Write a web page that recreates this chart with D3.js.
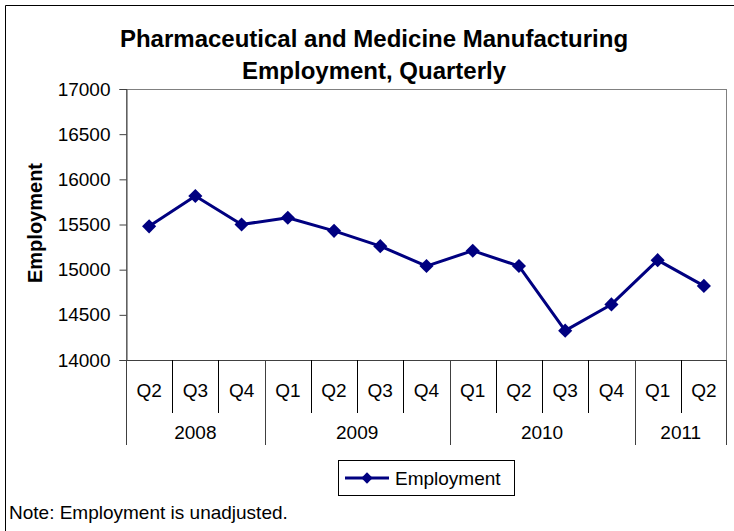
<!DOCTYPE html>
<html>
<head>
<meta charset="utf-8">
<script src="https://cdn.jsdelivr.net/npm/d3@7"></script>
<style>
  html, body { margin: 0; padding: 0; background: #fff; }
  svg { display: block; font-family: "Liberation Sans", Arial, Helvetica, sans-serif; }
</style>
</head>
<body>
<svg id="chart" width="734" height="531"></svg>
<script>
// Quarterly employment, pharmaceutical and medicine manufacturing
const quarters = ["Q2", "Q3", "Q4", "Q1", "Q2", "Q3", "Q4", "Q1", "Q2", "Q3", "Q4", "Q1", "Q2"];
const years = ["2008", "2009", "2010", "2011"];
const quartersPerYear = [3, 4, 4, 2];
const employment = [15480, 15815, 15500, 15575, 15430, 15260, 15040, 15210, 15040, 14325, 14615, 15105, 14820];
const yTicks = [14000, 14500, 15000, 15500, 16000, 16500, 17000];

const titleLines = ["Pharmaceutical and Medicine Manufacturing", "Employment, Quarterly"];
const seriesName = "Employment";
const noteText = "Note: Employment is unadjusted.";

const navy = "#000080";
const svg = d3.select("#chart");

const plot = { left: 126, right: 727, top: 89, bottom: 360 };

const x = d3.scaleBand()
  .domain(d3.range(quarters.length))
  .range([plot.left, plot.right])
  .padding(0);

const y = d3.scaleLinear()
  .domain([14000, 17000])
  .range([plot.bottom, plot.top]);

// chart frame
svg.append("path")
  .attr("d", "M5.5,531 V5.5 H734")
  .attr("fill", "none")
  .attr("stroke", "#000")
  .attr("stroke-width", 1);

// title
const title = svg.append("text")
  .attr("text-anchor", "middle")
  .attr("font-weight", "bold")
  .attr("font-size", 24)
  .attr("fill", "#000");
titleLines.forEach((t, i) => {
  title.append("tspan").attr("x", 374).attr("y", 47 + i * 32).text(t);
});

// plot area border
svg.append("rect")
  .attr("x", plot.left + 0.5)
  .attr("y", plot.top + 0.5)
  .attr("width", plot.right - plot.left - 1)
  .attr("height", plot.bottom - plot.top)
  .attr("fill", "none")
  .attr("stroke", "#808080")
  .attr("stroke-width", 1);

// y axis
const yAxis = d3.axisLeft(y)
  .tickValues(yTicks)
  .tickSize(7)
  .tickPadding(9)
  .tickFormat(d3.format("d"));
const yg = svg.append("g")
  .attr("transform", `translate(${plot.left + 0.5},0)`)
  .call(yAxis);
yg.select(".domain").attr("stroke", "#404040");
yg.selectAll(".tick line").attr("stroke", "#404040");
yg.selectAll(".tick text")
  .attr("font-size", 19)
  .attr("font-family", "Liberation Sans, Arial, sans-serif")
  .attr("fill", "#000");

// y axis title
svg.append("text")
  .attr("transform", `translate(42,223) rotate(-90)`)
  .attr("text-anchor", "middle")
  .attr("font-weight", "bold")
  .attr("font-size", 20)
  .attr("fill", "#000")
  .text(seriesName);

// category axis: quarter row
const xg = svg.append("g").attr("class", "x-axis");
xg.append("line")
  .attr("x1", plot.left).attr("x2", plot.right)
  .attr("y1", plot.bottom + 0.5).attr("y2", plot.bottom + 0.5)
  .attr("stroke", "#404040");

// boundaries between quarters
const quarterEdges = d3.range(1, quarters.length).map(i => x(i));
const yearStarts = [];
let acc = 0;
quartersPerYear.forEach(n => { yearStarts.push(acc); acc += n; });
yearStarts.push(acc);
const yearEdgeIdx = new Set(yearStarts);

xg.selectAll("line.q-sep")
  .data(quarterEdges.filter((_, k) => !yearEdgeIdx.has(k + 1)))
  .join("line")
  .attr("class", "q-sep")
  .attr("x1", d => Math.round(d) + 0.5).attr("x2", d => Math.round(d) + 0.5)
  .attr("y1", plot.bottom).attr("y2", plot.bottom + 53)
  .attr("stroke", "#000");

xg.selectAll("line.y-sep")
  .data(yearStarts.map(i => i === quarters.length ? plot.right : x(i)))
  .join("line")
  .attr("class", "y-sep")
  .attr("x1", d => Math.round(d) - (d === plot.right ? 0.5 : -0.5))
  .attr("x2", d => Math.round(d) - (d === plot.right ? 0.5 : -0.5))
  .attr("y1", plot.bottom).attr("y2", plot.bottom + 85)
  .attr("stroke", "#404040");

xg.selectAll("text.q-label")
  .data(quarters)
  .join("text")
  .attr("class", "q-label")
  .attr("x", (d, i) => x(i) + x.bandwidth() / 2)
  .attr("y", 397)
  .attr("text-anchor", "middle")
  .attr("font-size", 19)
  .attr("fill", "#000")
  .text(d => d);

xg.selectAll("text.y-label")
  .data(years)
  .join("text")
  .attr("class", "y-label")
  .attr("x", (d, i) => (x(yearStarts[i]) + (yearStarts[i + 1] === quarters.length ? plot.right : x(yearStarts[i + 1]))) / 2)
  .attr("y", 439)
  .attr("text-anchor", "middle")
  .attr("font-size", 19)
  .attr("fill", "#000")
  .text(d => d);

// series line
const cx = i => x(i) + x.bandwidth() / 2;
const line = d3.line()
  .x((d, i) => cx(i))
  .y(d => y(d));

svg.append("path")
  .datum(employment)
  .attr("d", line)
  .attr("fill", "none")
  .attr("stroke", navy)
  .attr("stroke-width", 3)
  .attr("stroke-linejoin", "round");

const diamond = d3.symbol().type(d3.symbolSquare).size(100);
svg.selectAll("path.marker")
  .data(employment)
  .join("path")
  .attr("class", "marker")
  .attr("d", diamond)
  .attr("transform", (d, i) => `translate(${cx(i)},${y(d)}) rotate(45)`)
  .attr("fill", navy);

// legend
const legend = svg.append("g").attr("transform", "translate(338,460)");
legend.append("rect")
  .attr("x", 0.5).attr("y", 0.5)
  .attr("width", 176).attr("height", 35)
  .attr("fill", "#fff")
  .attr("stroke", "#000");
legend.append("line")
  .attr("x1", 7).attr("x2", 51)
  .attr("y1", 18).attr("y2", 18)
  .attr("stroke", navy).attr("stroke-width", 3);
legend.append("path")
  .attr("d", d3.symbol().type(d3.symbolSquare).size(64))
  .attr("transform", "translate(29,18) rotate(45)")
  .attr("fill", navy);
legend.append("text")
  .attr("x", 57).attr("y", 25)
  .attr("font-size", 19)
  .attr("fill", "#000")
  .text(seriesName);

// footnote
svg.append("text")
  .attr("x", 9).attr("y", 519)
  .attr("font-size", 19)
  .attr("fill", "#000")
  .text(noteText);
</script>
</body>
</html>
